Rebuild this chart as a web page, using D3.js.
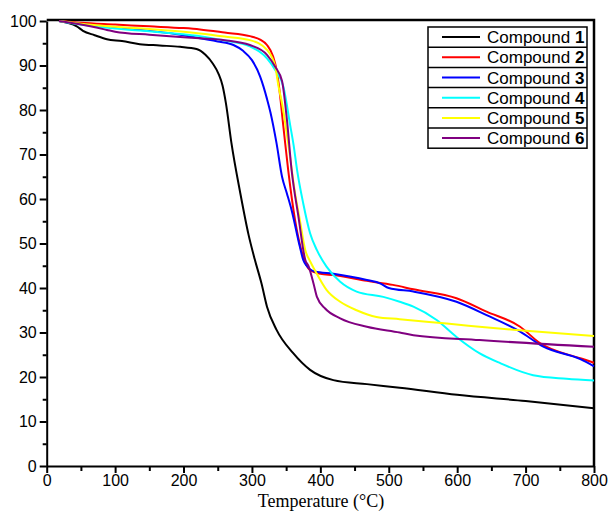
<!DOCTYPE html>
<html>
<head>
<meta charset="utf-8">
<script src="https://cdn.jsdelivr.net/npm/d3@7"></script>
<style>
  body { margin: 0; background: #fff; }
  text { font-family: "Liberation Sans", Arial, sans-serif; }
</style>
</head>
<body>
<div id="chart"></div>
<script>
const width = 611;
const height = 513;

// TGA curves: [temperature, weight %]
const compound1 = [[18,100],[30,99.6],[44,98.8],[53,97.8],[70,96.8],[88,95.9],[110,95.5],[136,94.8],[165,94.5],[195,94.2],[219,93.7],[232,92.4],[243,90.4],[251,88.2],[257,85.5],[262,81.5],[270,72.6],[283,61.3],[295,52],[304,46.5],[314,41],[322,35.8],[336,30.6],[360,25.4],[385,21.6],[419,19.3],[468,18.4],[516,17.6],[600,16],[700,14.6],[800,13]];
const compound2 = [[18,100],[50,99.6],[100,99.2],[150,98.8],[200,98.4],[224,98.1],[260,97.4],[297,96.6],[312,95.8],[322,94.6],[331,92],[336,89],[339,86],[346,76.2],[353,66.5],[363,55.3],[375,47],[385,44],[400,43.2],[419,42.9],[468,41.6],[506,40.7],[536,39.7],[599,37.7],[643,34.7],[692,31.3],[721,27.6],[780,24.2],[800,23.2]];
const compound3 = [[18,100],[50,99.3],[100,98.5],[150,97.8],[200,96.8],[224,96.1],[250,95.4],[273,94.6],[287,93.3],[300,91.2],[312,87.5],[317,85.2],[322,82.5],[327,79.5],[336,72.5],[344,65],[351,61.3],[358,57.5],[370,49.3],[375,46.3],[380,45],[392,43.7],[419,43.2],[468,41.8],[488,41],[500,40],[536,39.2],[599,36.9],[643,33.9],[692,30.2],[726,26.8],[780,24],[800,22.4]];
const compound4 = [[18,100],[50,99.2],[100,98.3],[150,97.7],[200,97],[224,96.6],[260,95.6],[297,94.3],[322,91.6],[334,89],[346,85.2],[356,76.5],[361,72],[366,66.5],[375,59],[385,52.3],[395,48.5],[409,44.8],[429,41.4],[453,39.2],[492,38],[516,36.9],[536,35.8],[570,32.8],[599,29],[633,25.3],[663,23.1],[711,20.4],[760,19.6],[800,19.2]];
const compound5 = [[18,100],[50,99.4],[100,98.7],[150,98.2],[200,97.6],[224,97.2],[260,96.5],[297,95.7],[322,93.5],[334,89.8],[339,85.2],[344,81.5],[353,72.5],[363,61.3],[370,55.3],[378,48.5],[385,46],[392,44],[409,39.6],[429,36.9],[453,35],[482,33.5],[516,33],[585,32],[682,30.6],[800,29.2]];
const compound6 = [[18,100],[50,99.2],[88,98],[100,97.6],[150,96.9],[185,96.5],[224,96.1],[260,95.7],[297,94.6],[322,92.4],[334,89.7],[344,86.5],[351,78],[358,66.5],[368,56],[378,46.3],[383,44.8],[390,41],[395,38],[407,35.4],[429,33.2],[468,31.3],[516,30],[536,29.4],[633,28.3],[800,26.8]];

const seriesNames = ["1", "2", "3", "4", "5", "6"];
const seriesData = [compound1, compound2, compound3, compound4, compound5, compound6];
const seriesColors = ["#000000", "#ff0000", "#0000ff", "#00ffff", "#ffff00", "#800080"];

const xMajor = [0, 100, 200, 300, 400, 500, 600, 700, 800];
const yMajor = [0, 10, 20, 30, 40, 50, 60, 70, 80, 90, 100];

const svg = d3.select("#chart").append("svg")
  .attr("width", width)
  .attr("height", height);

const x = d3.scaleLinear().domain([0, 800]).range([46.7, 594]);
const y = d3.scaleLinear().domain([0, 100]).range([466, 21]);

// minor ticks
svg.append("g")
  .attr("transform", `translate(0,${y(0)})`)
  .call(d3.axisBottom(x).tickValues(d3.range(50, 800, 100)).tickSize(5).tickSizeOuter(0).tickFormat(""))
  .call(g => g.select(".domain").remove())
  .selectAll("line").attr("stroke-width", 2);
svg.append("g")
  .attr("transform", `translate(${x(0)},0)`)
  .call(d3.axisLeft(y).tickValues(d3.range(5, 100, 10)).tickSize(4).tickSizeOuter(0).tickFormat(""))
  .call(g => g.select(".domain").remove())
  .selectAll("line").attr("stroke-width", 2);

// major axes
const xAxis = svg.append("g")
  .attr("transform", `translate(0,${y(0)})`)
  .call(d3.axisBottom(x).tickValues(xMajor).tickSize(7).tickSizeOuter(0).tickPadding(2));
const yAxis = svg.append("g")
  .attr("transform", `translate(${x(0)},0)`)
  .call(d3.axisLeft(y).tickValues(yMajor).tickSize(7).tickSizeOuter(0).tickPadding(3));

[xAxis, yAxis].forEach(g => {
  g.select(".domain").attr("stroke-width", 2);
  g.selectAll("line").attr("stroke-width", 2);
  g.selectAll("text").attr("font-size", 16).attr("fill", "#000")
    .style("font-family", "'Liberation Sans', Arial, sans-serif");
});

// frame top + right
svg.append("path")
  .attr("d", `M${x(0)},${y(100) - 1}H${x(800)}V${y(0)}`)
  .attr("fill", "none")
  .attr("stroke", "#000")
  .attr("stroke-width", 2.5);

// curves
const line = d3.line()
  .x(d => x(d[0]))
  .y(d => y(d[1]))
  .curve(d3.curveMonotoneX);

svg.append("g")
  .selectAll("path")
  .data(seriesData)
  .join("path")
  .attr("d", line)
  .attr("fill", "none")
  .attr("stroke", (d, i) => seriesColors[i])
  .attr("stroke-width", 2)
  .attr("stroke-linejoin", "round");

// legend
const lgX = 428, lgY = 27, lgW = 159, rowH = 20.2;
const legend = svg.append("g");
legend.append("rect")
  .attr("x", lgX).attr("y", lgY)
  .attr("width", lgW).attr("height", rowH * seriesNames.length)
  .attr("fill", "#fff").attr("stroke", "#000").attr("stroke-width", 1.5);

seriesNames.forEach((name, i) => {
  const cy = lgY + rowH * i + rowH / 2;
  if (i > 0) {
    legend.append("line")
      .attr("x1", lgX).attr("x2", lgX + lgW)
      .attr("y1", lgY + rowH * i).attr("y2", lgY + rowH * i)
      .attr("stroke", "#000").attr("stroke-width", 1.5);
  }
  legend.append("line")
    .attr("x1", 442).attr("x2", 480)
    .attr("y1", cy).attr("y2", cy)
    .attr("stroke", seriesColors[i]).attr("stroke-width", 2);
  const t = legend.append("text")
    .attr("x", 487).attr("y", cy + 6)
    .attr("font-size", 17).attr("fill", "#000");
  t.append("tspan").text("Compound ");
  t.append("tspan").attr("font-weight", "bold").text(name);
});

// x title
svg.append("text")
  .attr("x", 321).attr("y", 507)
  .attr("text-anchor", "middle")
  .attr("font-size", 18)
  .style("font-family", "'Liberation Serif', 'Times New Roman', serif")
  .text("Temperature (°C)");
</script>
</body>
</html>
